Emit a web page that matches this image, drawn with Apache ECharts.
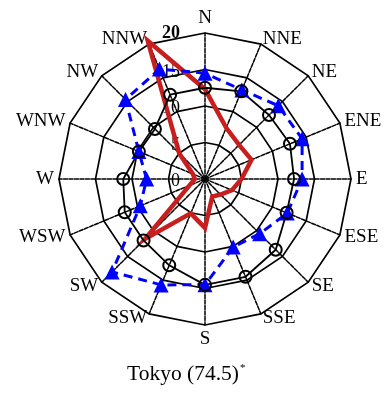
<!DOCTYPE html>
<html>
<head>
<meta charset="utf-8">
<script src="https://cdn.jsdelivr.net/npm/echarts@6/dist/echarts.min.js"></script>
<style>
  html, body { margin: 0; padding: 0; background: #fff; }
  #chart { width: 384px; height: 393px; }
</style>
</head>
<body>
<div id="chart"></div>
<script>
// Sixteen compass directions, clockwise from north
const directions = ['N', 'NNE', 'NE', 'ENE', 'E', 'ESE', 'SE', 'SSE',
                    'S', 'SSW', 'SW', 'WSW', 'W', 'WNW', 'NW', 'NNW'];

// Radial tick labels shown along the north spoke
const radialTicks = [0, 5, 10, 15, 20];

// Black line, open circle markers
const circleSeries = [12.5, 13.0, 12.4, 12.6, 12.2, 12.1, 13.7, 14.5,
                      14.5, 12.8, 11.9, 11.9, 11.2, 9.8, 9.7, 12.5];

// Blue dashed line, triangle markers
const triangleSeries = [14.5, 13.2, 14.2, 14.4, 13.3, 12.2, 10.6, 10.1,
                        14.5, 15.7, 18.0, 9.6, 8.0, 9.8, 15.4, 16.3];

// Thick red line, no markers
const redSeries = [12.3, 7.6, 6.6, 6.9, 5.0, 4.0, 3.0, 2.6,
                   6.7, 5.1, 11.6, 2.3, 1.4, 1.8, 5.0, 20.5];

const titleText = 'Tokyo (74.5)';

const serif = '"Liberation Serif", "Times New Roman", serif';

// The radar lays indicators out counter-clockwise, so walk the compass
// backwards after north to get a clockwise rose.
const order = [0];
for (let i = directions.length - 1; i > 0; i--) order.push(i);
const reorder = function (arr) { return order.map(function (i) { return arr[i]; }); };

const indicator = order.map(function (idx, k) {
  const ind = { name: directions[idx], min: 0, max: 20 };
  if (k === 0) {
    ind.axisLabel = {
      show: true,
      showMinLabel: true,
      showMaxLabel: true,
      margin: 25,
      color: '#000',
      fontFamily: serif,
      fontSize: 18,
      formatter: function (v) {
        if (radialTicks.indexOf(v) < 0) return '';
        return v === radialTicks[radialTicks.length - 1] ? '{b|' + v + '}' : '{n|' + v + '}';
      },
      rich: {
        b: { fontFamily: serif, fontSize: 18, fontWeight: 'bold', color: '#000', padding: [0, 0, 0, 0] },
        n: { fontFamily: serif, fontSize: 18, color: '#000', padding: [5, 0, 0, 0] }
      }
    };
  }
  return ind;
});

const chart = echarts.init(document.getElementById('chart'), null, { renderer: 'canvas' });

chart.setOption({
  animation: false,
  backgroundColor: '#fff',
  title: {
    text: '{a|' + titleText + '}{s|*}',
    left: 127,
    top: 363,
    padding: 0,
    textStyle: {
      fontWeight: 'normal',
      rich: {
        a: { fontFamily: serif, fontSize: 21.5, fontWeight: 'normal', color: '#000' },
        s: { fontFamily: serif, fontSize: 11, fontWeight: 'normal', color: '#000', verticalAlign: 'top', padding: [0, 0, 0, 1] }
      }
    }
  },
  radar: {
    center: [205, 179],
    radius: 146,
    startAngle: 90,
    splitNumber: 4,
    shape: 'polygon',
    indicator: indicator,
    nameGap: 5,
    axisName: {
      color: '#000',
      fontFamily: serif,
      fontSize: 19
    },
    axisLine: {
      lineStyle: { color: '#000', width: 1.5, type: [4, 1.5] }
    },
    axisTick: { show: false },
    axisLabel: { show: false },
    splitLine: {
      lineStyle: { color: '#000', width: 1.7 }
    },
    splitArea: { show: false }
  },
  series: [
    {
      type: 'radar',
      symbol: 'none',
      lineStyle: { color: '#c81e1e', width: 4.5, join: 'miter', miterLimit: 10 },
      data: [{ value: reorder(redSeries) }]
    },
    {
      type: 'radar',
      symbol: 'triangle',
      symbolSize: 15,
      itemStyle: { color: '#0000ff' },
      lineStyle: { color: '#0000ff', width: 3, type: [9, 6] },
      data: [{ value: reorder(triangleSeries) }]
    },
    {
      type: 'radar',
      symbol: 'circle',
      symbolSize: 12,
      itemStyle: { color: 'rgba(0,0,0,0)', borderColor: '#000', borderWidth: 2 },
      lineStyle: { color: '#000', width: 1.8 },
      data: [{ value: reorder(circleSeries) }]
    }
  ]
});
</script>
</body>
</html>
